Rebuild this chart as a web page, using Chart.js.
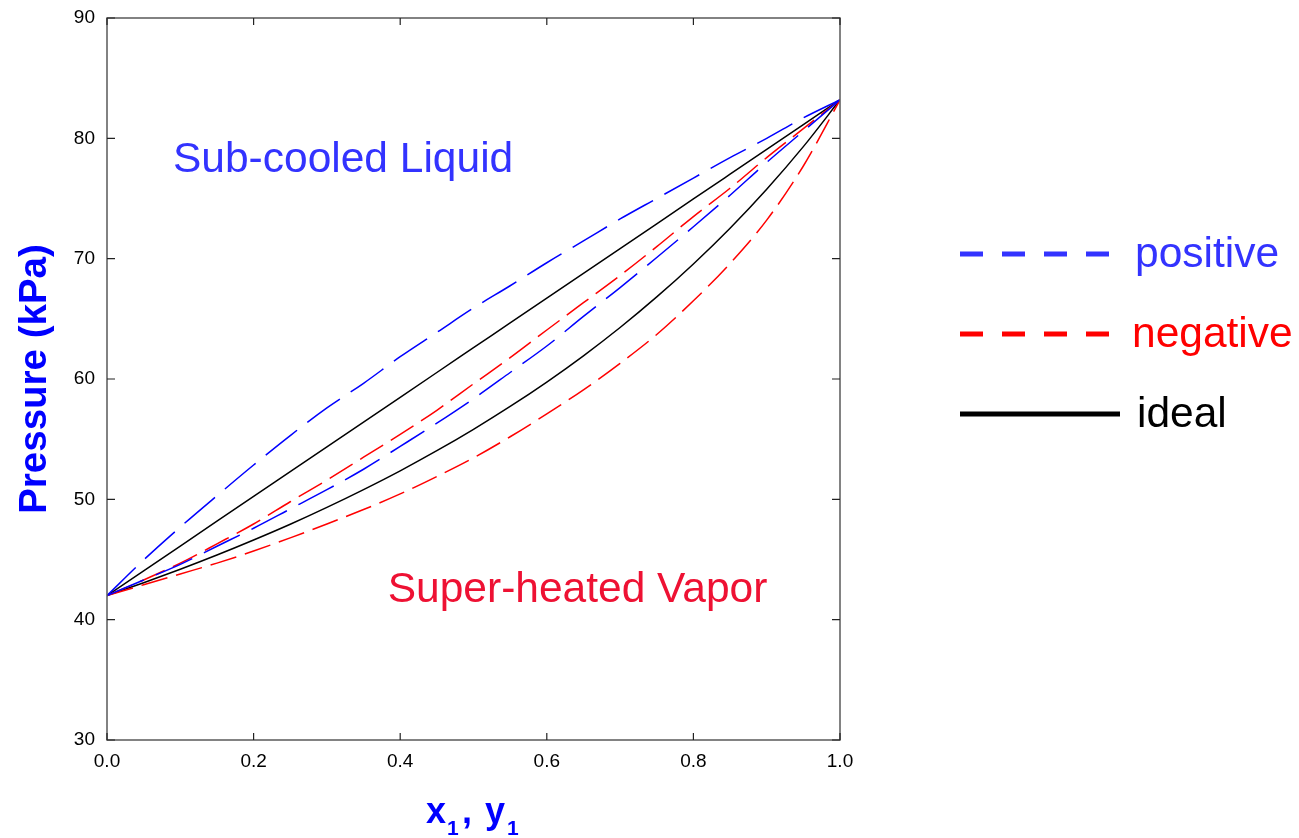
<!DOCTYPE html>
<html>
<head>
<meta charset="utf-8">
<script src="https://cdn.jsdelivr.net/npm/chart.js@4.4.1/dist/chart.umd.min.js"></script>
<style>
  html, body { margin: 0; padding: 0; background: #fff; }
  #wrap { width: 1299px; height: 838px; }
</style>
</head>
<body>
<div id="wrap"><canvas id="myChart" width="1299" height="838"></canvas></div>
<script>
// mole fraction of component 1 (x1 for bubble curves, y1 for dew curves)
const xMole = [0, 0.05, 0.1, 0.15, 0.2, 0.25, 0.3, 0.35, 0.4, 0.45, 0.5,
               0.55, 0.6, 0.65, 0.7, 0.75, 0.8, 0.85, 0.9, 0.95, 1.0];

// pressures (kPa)
const posBubble = [42, 44.96, 47.7, 50.3, 52.85, 55.3, 57.6, 59.64, 61.85, 63.87, 65.9,
                   67.75, 69.66, 71.47, 73.3, 75.0, 76.7, 78.4, 80.0, 81.7, 83.2];
const posDew    = [42, 43.3, 44.6, 46.1, 47.6, 49.2, 50.8, 52.5, 54.4, 56.33, 58.36,
                   60.54, 62.74, 65.2, 67.6, 70.1, 72.65, 75.27, 78.0, 80.6, 83.2];
const negBubble = [42, 43.3, 44.7, 46.3, 47.95, 49.8, 51.6, 53.5, 55.4, 57.4, 59.6,
                   61.77, 64.07, 66.34, 68.6, 71.0, 73.5, 75.85, 78.4, 80.8, 83.2];
const negDew    = [42, 42.9, 43.8, 44.7, 45.7, 46.8, 47.95, 49.15, 50.45, 51.9, 53.45,
                   55.2, 57.1, 59.1, 61.3, 63.7, 66.5, 69.6, 73.2, 77.7, 83.2];
const idealBubble = [42, 44.06, 46.12, 48.18, 50.24, 52.3, 54.36, 56.42, 58.48, 60.54, 62.6,
                     64.66, 66.72, 68.78, 70.84, 72.9, 74.96, 77.02, 79.08, 81.14, 83.2];
const idealDew  = [42, 43.07, 44.19, 45.37, 46.62, 47.93, 49.33, 50.81, 52.37, 54.04, 55.82,
                   57.72, 59.75, 61.93, 64.28, 66.82, 69.56, 72.53, 75.77, 79.31, 83.2];

const xTicks = [0, 0.2, 0.4, 0.6, 0.8, 1.0];
const yTicks = [30, 40, 50, 60, 70, 80, 90];

const FONT = '"Liberation Sans", Arial, Helvetica, sans-serif';

function pts(arr){
    return xMole.map((x, i) => ({x: x, y: arr[i]}));
}

function lineSet(label, arr, color, dash){
    return {
        label: label,
        data: pts(arr),
        borderColor: color,
        borderWidth: 1.5,
        borderDash: dash,
        pointRadius: 0,
        fill: false,
        cubicInterpolationMode: 'monotone'
    };
}

// frame with inward tick marks on all four sides
const frameTicks = {
    id: 'frameTicks',
    afterDraw(chart){
        const ctx = chart.ctx;
        const a = chart.chartArea;
        const xs = chart.scales.x, ys = chart.scales.y;
        ctx.save();
        ctx.strokeStyle = '#5a5a5a';
        ctx.lineWidth = 1.5;
        ctx.strokeRect(a.left, a.top, a.right - a.left, a.bottom - a.top);
        ctx.strokeStyle = '#222';
        ctx.lineWidth = 1.2;
        ctx.beginPath();
        xTicks.forEach(v => {
            const px = xs.getPixelForValue(v);
            ctx.moveTo(px, a.bottom); ctx.lineTo(px, a.bottom - 7);
            ctx.moveTo(px, a.top);    ctx.lineTo(px, a.top + 7);
        });
        yTicks.forEach(v => {
            const py = ys.getPixelForValue(v);
            ctx.moveTo(a.left, py);  ctx.lineTo(a.left + 8, py);
            ctx.moveTo(a.right, py); ctx.lineTo(a.right - 8, py);
        });
        ctx.stroke();
        ctx.restore();
    }
};

// region labels, legend and x axis title with subscripts
const annotations = {
    id: 'annotations',
    afterDraw(chart){
        const ctx = chart.ctx;
        const xs = chart.scales.x, ys = chart.scales.y;
        ctx.save();
        ctx.textBaseline = 'middle';
        ctx.textAlign = 'left';
        ctx.font = '42.5px ' + FONT;
        ctx.fillStyle = '#3333ff';
        ctx.fillText('Sub-cooled Liquid', xs.getPixelForValue(0.09), ys.getPixelForValue(78.2));
        ctx.fillStyle = '#ee1133';
        ctx.fillText('Super-heated Vapor', xs.getPixelForValue(0.383), ys.getPixelForValue(42.45));

        // legend
        const legend = [
            {text: 'positive', color: '#3333ff', dash: [23, 19], y: 254, x1: 1110, tx: 1135},
            {text: 'negative', color: '#ff0000', dash: [23, 19], y: 334, x1: 1110, tx: 1132},
            {text: 'ideal',    color: '#000000', dash: [],       y: 414, x1: 1120, tx: 1137}
        ];
        legend.forEach(it => {
            ctx.beginPath();
            ctx.setLineDash(it.dash);
            ctx.strokeStyle = it.color;
            ctx.lineWidth = 5;
            ctx.moveTo(960, it.y);
            ctx.lineTo(it.x1, it.y);
            ctx.stroke();
            ctx.setLineDash([]);
            ctx.textBaseline = 'alphabetic';
            ctx.font = '42.5px ' + FONT;
            ctx.fillStyle = it.color;
            ctx.fillText(it.text, it.tx, it.y + 13);
        });

        // x title: x1, y1
        ctx.fillStyle = '#0000ff';
        ctx.textBaseline = 'alphabetic';
        ctx.font = 'bold 36px ' + FONT;
        ctx.fillText('x', 426, 823);
        ctx.fillText(',', 462, 823);
        ctx.fillText('y', 485, 823);
        ctx.font = 'bold 21px ' + FONT;
        ctx.fillText('1', 447, 835);
        ctx.fillText('1', 507, 835);
        ctx.restore();
    }
};

const ctx = document.getElementById('myChart');
const myChart = new Chart(ctx, {
    type: 'line',
    data: {
        datasets: [
            lineSet('positive bubble', posBubble, '#0000ff', [40, 13]),
            lineSet('positive dew', posDew, '#0000ff', [40, 13]),
            lineSet('negative bubble', negBubble, '#ff0000', [27, 9]),
            lineSet('negative dew', negDew, '#ff0000', [27, 9]),
            lineSet('ideal bubble', idealBubble, '#000000', []),
            lineSet('ideal dew', idealDew, '#000000', [])
        ]
    },
    options: {
        responsive: false,
        animation: false,
        devicePixelRatio: 1,
        layout: { padding: { left: 0, top: 18, right: 459, bottom: 0 } },
        scales: {
            x: {
                type: 'linear',
                min: 0, max: 1,
                grid: { display: false, drawTicks: false },
                border: { display: false },
                afterBuildTicks: s => { s.ticks = xTicks.map(v => ({value: v})); },
                afterFit: s => { s.height = 98; s.paddingLeft = 0; s.paddingRight = 0; },
                ticks: {
                    padding: 10,
                    color: '#000',
                    font: { family: FONT, size: 19 },
                    callback: v => v.toFixed(1)
                }
            },
            y: {
                type: 'linear',
                min: 30, max: 90,
                grid: { display: false, drawTicks: false },
                border: { display: false },
                afterBuildTicks: s => { s.ticks = yTicks.map(v => ({value: v})); },
                afterFit: s => { s.width = 107; s.paddingTop = 0; s.paddingBottom = 0; },
                ticks: {
                    padding: 12,
                    color: '#000',
                    font: { family: FONT, size: 19 }
                },
                title: {
                    display: true,
                    text: 'Pressure (kPa)',
                    color: '#0000ff',
                    font: { family: FONT, size: 38.5, weight: 'bold' },
                    padding: { top: 12, bottom: 0 }
                }
            }
        },
        plugins: {
            legend: { display: false },
            tooltip: { enabled: false }
        }
    },
    plugins: [frameTicks, annotations]
});
</script>
</body>
</html>
